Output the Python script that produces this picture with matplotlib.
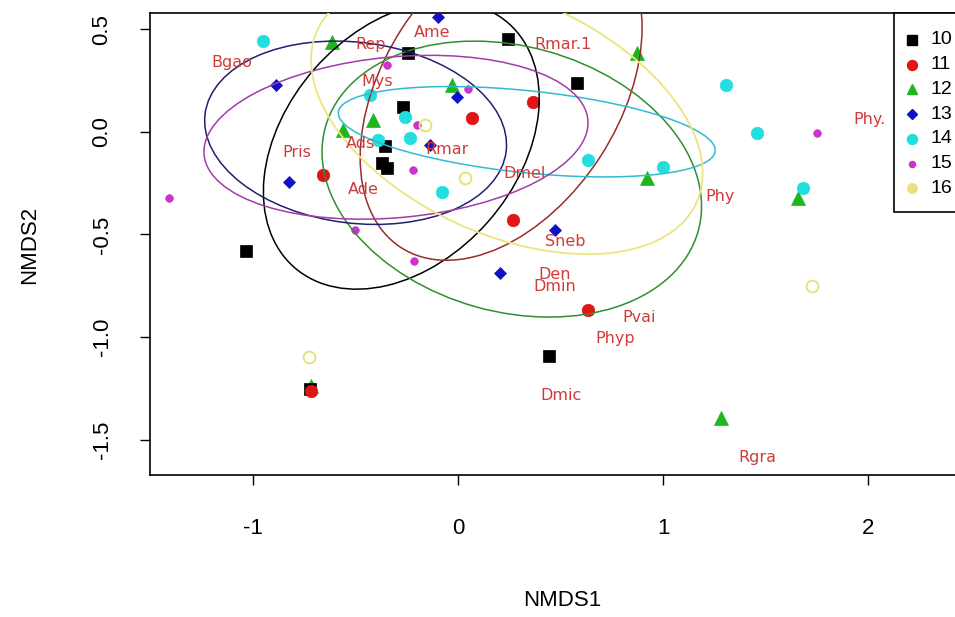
import numpy as np
import matplotlib.pyplot as plt
from matplotlib.patches import Ellipse, Rectangle
from matplotlib.lines import Line2D

plt.rcParams['font.family'] = ['Liberation Sans', 'DejaVu Sans']

# site scores per group (NMDS1, NMDS2)
x10 = [0.242, -0.245, 0.579, -0.270, -0.358, -0.372, -0.348, -1.036, 0.442, -0.724]
y10 = [0.454, 0.385, 0.239, 0.122, -0.068, -0.151, -0.176, -0.580, -1.093, -1.254]
x11 = [0.364, 0.067, -0.660, 0.267, 0.633, -0.718]
y11 = [0.146, 0.068, -0.210, -0.429, -0.868, -1.263]
x12 = [-0.616, -0.031, -0.416, -0.562, 0.872, 0.920, 1.657, 1.281, -0.719]
y12 = [0.439, 0.229, 0.059, 0.010, 0.385, -0.224, -0.322, -1.395, -1.239]
x13 = [-0.099, -0.889, -0.006, -0.138, -0.826, 0.472, 0.203]
y13 = [0.561, 0.229, 0.171, -0.063, -0.244, -0.478, -0.688]
x14 = [-0.953, -0.431, -0.260, -0.393, -0.236, -0.080, 0.633, 0.999, 1.306, 1.457, 1.681]
y14 = [0.444, 0.180, 0.073, -0.039, -0.029, -0.293, -0.137, -0.171, 0.229, -0.005, -0.273]
x15 = [-1.411, -0.349, 0.047, -0.201, -0.221, -0.504, -0.216, 1.749]
y15 = [-0.322, 0.327, 0.210, 0.034, -0.185, -0.478, -0.629, -0.005]
x16 = [-0.163, 0.033, -0.729, 1.725]
y16 = [0.034, -0.224, -1.098, -0.751]

groups = ["10", "11", "12", "13", "14", "15", "16"]
xs = [x10, x11, x12, x13, x14, x15, x16]
ys = [y10, y11, y12, y13, y14, y15, y16]

# group ellipses: centre x, centre y, semi-axis 1, semi-axis 2, angle (deg)
ell_cx = [-0.278, 0.209, 0.261, -0.501, 0.334, -0.304, 0.237]
ell_cy = [-0.065, 0.192, -0.230, -0.004, 0.001, -0.026, 0.075]
ell_a = [0.792, 0.900, 0.944, 0.740, 0.924, 0.940, 1.016]
ell_b = [0.564, 0.576, 0.647, 0.441, 0.200, 0.392, 0.575]
ell_ang = [-131.3, -122.9, 164.4, 172.9, 174.1, -174.8, 155.6]

# species scores
sp_names = ["Ame", "Rep", "Rmar.1", "Bgao", "Mys", "Ads", "Pris", "Ade", "Rmar", "Dmel",
            "Phy.", "Phy", "Sneb", "Den", "Dmin", "Pvai", "Phyp", "Dmic", "Rgra"]
sp_x = [-0.128, -0.427, 0.511, -1.104, -0.397, -0.475, -0.787, -0.465, -0.055, 0.325,
        2.008, 1.276, 0.520, 0.472, 0.472, 0.881, 0.765, 0.501, 1.461]
sp_y = [0.483, 0.424, 0.424, 0.337, 0.244, -0.054, -0.098, -0.283, -0.088, -0.205,
        0.059, -0.317, -0.532, -0.693, -0.756, -0.907, -1.005, -1.283, -1.590]

pt_colors = ['#000000', '#e01515', '#1fb51f', '#1010c8', '#22dede', '#cc33cc', '#e8e27a']
ell_colors = ['#000000', '#9a2c2c', '#2f8f2f', '#202070', '#30bcd0', '#a23ca8', '#ece57e']
markers = ['s', 'o', '^', 'D', 'o', 'o', 'o']
msizes = [9, 9, 9.5, 6.5, 9, 5.5, 8.5]
zorders = [3.1, 3.2, 3.0, 3.1, 3.1, 3.1, 3.1]

W, H = 955, 617
fig = plt.figure(figsize=(W/100, H/100), dpi=100)
ax = fig.add_axes([150/W, 142/H, 815/W, 462/H])

for i in range(7):
    hollow = groups[i] == "16"
    ax.plot(xs[i], ys[i], linestyle='none', marker=markers[i], ms=msizes[i],
            color=pt_colors[i], mfc='none' if hollow else pt_colors[i],
            mew=1.4 if hollow else 0.5, zorder=zorders[i])

for i in range(7):
    e = Ellipse((ell_cx[i], ell_cy[i]), 2*ell_a[i], 2*ell_b[i], angle=ell_ang[i],
                fill=False, edgecolor=ell_colors[i], lw=1.3 if i == 6 else 1.1, zorder=4)
    ax.add_patch(e)

for n, sx, sy in zip(sp_names, sp_x, sp_y):
    ax.text(sx, sy, n, color='#d23a3a', fontsize=11.5, family='DejaVu Sans',
            ha='center', va='center', zorder=5)

ax.set_xlim(-1.504, 2.472)
ax.set_ylim(-1.673, 0.580)
ax.set_xticks([-1, 0, 1, 2])
ax.set_xticklabels(["-1", "0", "1", "2"])
ax.set_yticks([-1.5, -1.0, -0.5, 0.0, 0.5])
ax.set_yticklabels(["-1.5", "-1.0", "-0.5", "0.0", "0.5"], rotation=90, va='center')
ax.tick_params(direction='out', length=7, width=1, labelsize=16, pad=20)
ax.tick_params(axis='x', pad=24)
for s in ax.spines.values():
    s.set_linewidth(1.2)

fig.text(562/W, 1 - 600/H, "NMDS1", fontsize=16, ha='center', va='center')
fig.text(30/W, 1 - 245/H, "NMDS2", fontsize=16, ha='center', va='center', rotation=90)

# legend box, drawn in figure pixels (right side runs off the picture)
fig.add_artist(Rectangle((894/W, 1 - 212/H), 80/W, 199/H, transform=fig.transFigure,
                         facecolor='white', edgecolor='black', lw=1.2, zorder=6))
for i in range(7):
    py = 40 + 24.7*i
    fig.add_artist(Line2D([912/W], [1 - py/H], transform=fig.transFigure, linestyle='none',
                          marker=markers[i], ms=msizes[i]*0.8, color=pt_colors[i],
                          mfc=pt_colors[i], zorder=7))
    fig.text(930/W, 1 - py/H, groups[i], fontsize=14, ha='left', va='center', zorder=7)

fig.savefig('out.png')
